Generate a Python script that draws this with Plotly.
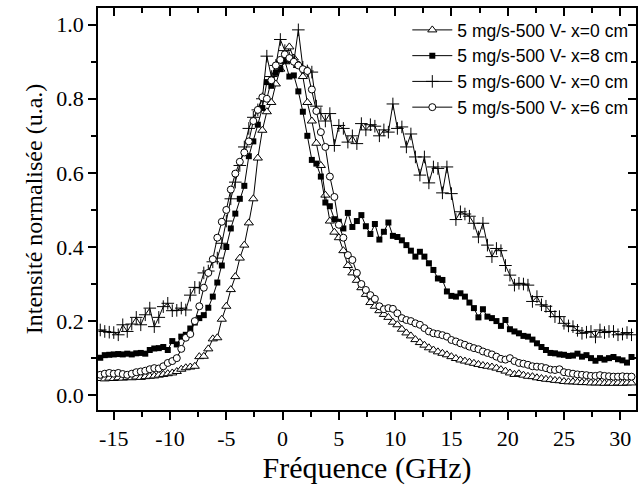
import plotly.graph_objects as go

freq = [
    -16.2, -15.8, -15.4, -15.0, -14.6, -14.2, -13.8, -13.4, -13.0, -12.6,
    -12.2, -11.8, -11.4, -11.0, -10.6, -10.2, -9.8, -9.4, -9.0, -8.6,
    -8.2, -7.8, -7.4, -7.0, -6.6, -6.2, -5.8, -5.4, -5.0, -4.6,
    -4.2, -3.8, -3.4, -3.0, -2.6, -2.2, -1.8, -1.4, -1.0, -0.6,
    -0.2, 0.2, 0.6, 1.0, 1.4, 1.8, 2.2, 2.6, 3.0, 3.4,
    3.8, 4.2, 4.6, 5.0, 5.4, 5.8, 6.2, 6.6, 7.0, 7.4,
    7.8, 8.2, 8.6, 9.0, 9.4, 9.8, 10.2, 10.6, 11.0, 11.4,
    11.8, 12.2, 12.6, 13.0, 13.4, 13.8, 14.2, 14.6, 15.0, 15.4,
    15.8, 16.2, 16.6, 17.0, 17.4, 17.8, 18.2, 18.6, 19.0, 19.4,
    19.8, 20.2, 20.6, 21.0, 21.4, 21.8, 22.2, 22.6, 23.0, 23.4,
    23.8, 24.2, 24.6, 25.0, 25.4, 25.8, 26.2, 26.6, 27.0, 27.4,
    27.8, 28.2, 28.6, 29.0, 29.4, 29.8, 30.2, 30.6, 31.0,
]

# 5 mg/s-500 V- x=0 cm (open triangles)
s_500_x0 = [
    0.045, 0.044, 0.046, 0.045, 0.047, 0.046, 0.048, 0.047, 0.049, 0.048,
    0.050, 0.051, 0.052, 0.054, 0.056, 0.058, 0.060, 0.064, 0.070, 0.074,
    0.076, 0.078, 0.104, 0.105, 0.125, 0.152, 0.155, 0.205, 0.240, 0.285,
    0.320, 0.370, 0.405, 0.465, 0.530, 0.640, 0.715, 0.765, 0.790, 0.840,
    0.880, 0.900, 0.940, 0.910, 0.890, 0.860, 0.790, 0.740, 0.680, 0.620,
    0.540, 0.470, 0.440, 0.425, 0.390, 0.350, 0.330, 0.310, 0.290, 0.272,
    0.250, 0.240, 0.228, 0.218, 0.210, 0.197, 0.190, 0.178, 0.168, 0.160,
    0.150, 0.142, 0.135, 0.128, 0.122, 0.117, 0.113, 0.109, 0.104, 0.099,
    0.095, 0.092, 0.089, 0.086, 0.083, 0.080, 0.078, 0.076, 0.073, 0.069,
    0.065, 0.060, 0.056, 0.058, 0.054, 0.051, 0.050, 0.047, 0.045, 0.043,
    0.042, 0.040, 0.039, 0.037, 0.036, 0.036, 0.035, 0.034, 0.034, 0.033,
    0.033, 0.033, 0.032, 0.033, 0.032, 0.033, 0.032, 0.033, 0.033,
]

# 5 mg/s-500 V- x=8 cm (filled squares)
s_500_x8 = [
    0.101, 0.108, 0.109, 0.110, 0.111, 0.110, 0.112, 0.110, 0.113, 0.114,
    0.112, 0.122, 0.126, 0.127, 0.130, 0.122, 0.146, 0.137, 0.158, 0.163,
    0.180, 0.196, 0.208, 0.216, 0.236, 0.266, 0.304, 0.350, 0.400, 0.450,
    0.490, 0.530, 0.565, 0.645, 0.685, 0.730, 0.775, 0.845, 0.835, 0.870,
    0.880, 0.903, 0.860, 0.863, 0.820, 0.765, 0.700, 0.635, 0.625, 0.590,
    0.520, 0.510, 0.475, 0.468, 0.450, 0.492, 0.454, 0.470, 0.486, 0.456,
    0.435, 0.462, 0.420, 0.441, 0.466, 0.430, 0.427, 0.418, 0.405, 0.390,
    0.374, 0.387, 0.374, 0.356, 0.338, 0.315, 0.311, 0.280, 0.268, 0.266,
    0.275, 0.266, 0.250, 0.235, 0.210, 0.232, 0.212, 0.208, 0.200, 0.187,
    0.203, 0.178, 0.172, 0.167, 0.160, 0.158, 0.150, 0.140, 0.130, 0.122,
    0.114, 0.113, 0.110, 0.109, 0.106, 0.107, 0.112, 0.104, 0.108, 0.100,
    0.093, 0.100, 0.096, 0.100, 0.103, 0.097, 0.094, 0.088, 0.103,
]

# 5 mg/s-600 V- x=0 cm (crosses)
s_600_x0 = [
    0.176, 0.172, 0.170, 0.169, 0.163, 0.190, 0.172, 0.192, 0.210, 0.190,
    0.217, 0.235, 0.185, 0.210, 0.239, 0.248, 0.228, 0.229, 0.235, 0.230,
    0.270, 0.291, 0.290, 0.330, 0.335, 0.360, 0.370, 0.410, 0.470, 0.530,
    0.575, 0.620, 0.670, 0.720, 0.750, 0.770, 0.800, 0.915, 0.860, 0.890,
    0.960, 0.930, 0.910, 0.900, 0.986, 0.885, 0.875, 0.872, 0.780, 0.760,
    0.740, 0.760, 0.674, 0.728, 0.720, 0.683, 0.700, 0.679, 0.733, 0.716,
    0.730, 0.726, 0.700, 0.716, 0.710, 0.786, 0.720, 0.724, 0.670, 0.705,
    0.643, 0.594, 0.643, 0.573, 0.616, 0.612, 0.546, 0.616, 0.544, 0.474,
    0.495, 0.489, 0.483, 0.464, 0.427, 0.464, 0.405, 0.374, 0.396, 0.390,
    0.350, 0.324, 0.297, 0.302, 0.300, 0.297, 0.253, 0.266, 0.244, 0.240,
    0.226, 0.212, 0.212, 0.194, 0.187, 0.185, 0.175, 0.167, 0.170, 0.172,
    0.157, 0.176, 0.169, 0.172, 0.172, 0.163, 0.165, 0.169, 0.163,
]

# 5 mg/s-500 V- x=6 cm (open circles)
s_500_x6 = [
    0.055, 0.058, 0.060, 0.058, 0.060, 0.057, 0.055, 0.058, 0.062, 0.064,
    0.066, 0.070, 0.073, 0.072, 0.078, 0.087, 0.092, 0.100, 0.125, 0.155,
    0.165, 0.200, 0.240, 0.290, 0.330, 0.367, 0.425, 0.468, 0.500, 0.555,
    0.598, 0.630, 0.655, 0.685, 0.740, 0.770, 0.804, 0.800, 0.850, 0.890,
    0.905, 0.920, 0.910, 0.900, 0.890, 0.880, 0.875, 0.825, 0.767, 0.710,
    0.670, 0.590, 0.535, 0.460, 0.425, 0.378, 0.365, 0.330, 0.300, 0.284,
    0.270, 0.260, 0.240, 0.232, 0.235, 0.233, 0.221, 0.208, 0.203, 0.200,
    0.194, 0.190, 0.181, 0.172, 0.167, 0.165, 0.162, 0.158, 0.149, 0.145,
    0.140, 0.136, 0.131, 0.127, 0.124, 0.118, 0.114, 0.110, 0.104, 0.098,
    0.096, 0.100, 0.092, 0.087, 0.085, 0.082, 0.078, 0.077, 0.076, 0.073,
    0.069, 0.068, 0.070, 0.062, 0.060, 0.058, 0.056, 0.055, 0.054, 0.052,
    0.052, 0.054, 0.052, 0.051, 0.050, 0.050, 0.051, 0.050, 0.050,
]

names = [
    "5 mg/s-500 V- x=0 cm",
    "5 mg/s-500 V- x=8 cm",
    "5 mg/s-600 V- x=0 cm",
    "5 mg/s-500 V- x=6 cm",
]

x_ticks = [-15, -10, -5, 0, 5, 10, 15, 20, 25, 30]
y_ticks = [0.0, 0.2, 0.4, 0.6, 0.8, 1.0]
x_range = [-16.4, 31.4]
y_range = [-0.04, 1.045]

fig = go.Figure()

styles = [
    dict(symbol="triangle-up", size=8, color="white", line=dict(color="black", width=1)),
    dict(symbol="square", size=6, color="black", line=dict(color="black", width=0)),
    dict(symbol="cross-thin", size=9, color="black", line=dict(color="black", width=1)),
    dict(symbol="circle", size=7, color="white", line=dict(color="black", width=1)),
]
series = [s_500_x0, s_500_x8, s_600_x0, s_500_x6]

for name, ys, st in zip(names, series, styles):
    fig.add_trace(go.Scatter(
        x=freq, y=ys, name=name, mode="lines+markers",
        line=dict(color="black", width=1),
        marker=st,
    ))

# invisible helper trace so the mirrored top/right axes (inward ticks) are drawn
fig.add_trace(go.Scatter(
    x=freq, y=s_500_x0, xaxis="x2", yaxis="y2", mode="lines",
    line=dict(width=0, color="rgba(0,0,0,0)"), opacity=0,
    showlegend=False, hoverinfo="skip",
))

serif = '"Liberation Serif", "Times New Roman", serif'
sans = '"Liberation Sans", Arial, sans-serif'

fig.update_layout(
    width=640, height=491,
    margin=dict(l=98, r=2, t=8, b=81),
    paper_bgcolor="white", plot_bgcolor="white",
    showlegend=True,
    legend=dict(
        x=0.995, y=0.99, xanchor="right", yanchor="top",
        bgcolor="rgba(0,0,0,0)", borderwidth=0,
        font=dict(family=sans, size=17.5, color="black"),
        tracegroupgap=0, itemwidth=40,
    ),
    xaxis=dict(
        range=x_range, tickvals=x_ticks, ticktext=[str(v) for v in x_ticks],
        ticks="outside", ticklen=8, tickwidth=1.5, tickcolor="black",
        minor=dict(dtick=2.5, tick0=0, ticks="outside", ticklen=5, tickwidth=1.5, tickcolor="black"),
        showline=True, linecolor="black", linewidth=1.5, mirror=True,
        showgrid=False, zeroline=False,
        tickfont=dict(family=serif, size=22, color="black"),
        title=dict(text="Fréquence (GHz)", font=dict(family=serif, size=30, color="black"), standoff=6),
    ),
    yaxis=dict(
        range=y_range, tickvals=y_ticks, ticktext=["%.1f" % v for v in y_ticks],
        ticks="outside", ticklen=8, tickwidth=1.5, tickcolor="black",
        minor=dict(dtick=0.1, tick0=0, ticks="outside", ticklen=5, tickwidth=1.5, tickcolor="black"),
        showline=True, linecolor="black", linewidth=1.5, mirror=True,
        showgrid=False, zeroline=False,
        tickfont=dict(family=serif, size=22, color="black"),
        title=dict(text="Intensité normalisée (u.a.)", font=dict(family=serif, size=24, color="black"), standoff=7),
    ),
    xaxis2=dict(
        overlaying="x", side="top", anchor="y2", range=x_range, tickvals=x_ticks,
        ticks="inside", ticklen=8, tickwidth=1.5, tickcolor="black", showticklabels=False,
        minor=dict(dtick=2.5, tick0=0, ticks="inside", ticklen=5, tickwidth=1.5, tickcolor="black"),
        showline=False, showgrid=False, zeroline=False,
    ),
    yaxis2=dict(
        overlaying="y", side="right", anchor="x2", range=y_range, tickvals=y_ticks,
        ticks="inside", ticklen=8, tickwidth=1.5, tickcolor="black", showticklabels=False,
        minor=dict(dtick=0.1, tick0=0, ticks="inside", ticklen=5, tickwidth=1.5, tickcolor="black"),
        showline=False, showgrid=False, zeroline=False,
    ),
)

fig.write_html(
    "out.html",
    config={"displayModeBar": False},
    post_script="document.body.style.margin='0';",
)
